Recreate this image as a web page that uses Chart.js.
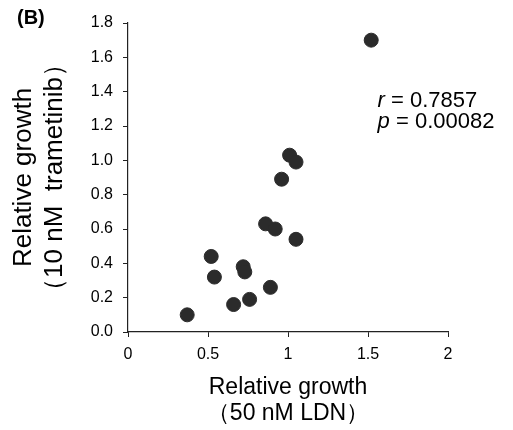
<!DOCTYPE html>
<html><head><meta charset="utf-8">
<script src="https://cdn.jsdelivr.net/npm/chart.js@4"></script>
<style>html,body{margin:0;padding:0;background:#fff}#wrap{width:513px;height:430px}</style>
</head><body><div id="wrap"><canvas id="c" width="513" height="430"></canvas></div>
<script>
const xValues = [1.52, 1.01, 1.05, 0.96, 0.86, 0.92, 1.05, 0.52, 0.54, 0.72, 0.73, 0.89, 0.76, 0.66, 0.37];
const yValues = [1.70, 1.03, 0.99, 0.89, 0.63, 0.60, 0.54, 0.44, 0.32, 0.38, 0.35, 0.26, 0.19, 0.16, 0.10];
const xTicks = [0, 0.5, 1, 1.5, 2];
const yTicks = [0, 0.2, 0.4, 0.6, 0.8, 1.0, 1.2, 1.4, 1.6, 1.8];
const xTitle = ['Relative growth', '（50 nM LDN）'];
const yTitle = ['Relative growth', '（10 nM  trametinib）'];
const panelLabel = '(B)';
const statR = '0.7857';
const statP = '0.00082';

const FONT = '"Liberation Sans", Arial, sans-serif';
const points = xValues.map((x, i) => ({x, y: yValues[i]}));

const extras = {
  id: 'extras',
  afterDraw(chart) {
    const ctx = chart.ctx;
    const xs = chart.scales.x, ys = chart.scales.y;
    ctx.save();
    ctx.fillStyle = '#000';
    ctx.textBaseline = 'alphabetic';
    ctx.font = 'bold 20px ' + FONT;
    ctx.fillText(panelLabel, 17, 24);
    const x0 = xs.getPixelForValue(1.56);
    const lines = [['r', statR, ys.getPixelForValue(1.31)], ['p', statP, ys.getPixelForValue(1.19)]];
    for (const [sym, val, yy] of lines) {
      ctx.font = 'italic 22px ' + FONT;
      ctx.fillText(sym, x0, yy);
      const w = ctx.measureText(sym).width;
      ctx.font = '22px ' + FONT;
      ctx.fillText(' = ' + val, x0 + w, yy);
    }
    ctx.restore();
  }
};

new Chart(document.getElementById('c'), {
  type: 'scatter',
  data: { datasets: [{ data: points, backgroundColor: '#2b2b2b', borderColor: '#2b2b2b', pointRadius: 7, pointHoverRadius: 7 }] },
  options: {
    responsive: false, animation: false,
    layout: { padding: { left: 0, right: 65, top: 23, bottom: 0 } },
    plugins: { legend: { display: false }, tooltip: { enabled: false } },
    scales: {
      x: {
        type: 'linear', min: 0, max: 2,
        afterBuildTicks(s) { s.ticks = xTicks.map(v => ({value: v})); },
        afterFit(s) { s.height = 98; },
        grid: { display: true, drawOnChartArea: false, drawTicks: true, tickLength: 5, color: '#222' },
        border: { display: true, color: '#222', width: 1.2 },
        ticks: { color: '#000', font: { family: FONT, size: 16 }, padding: 8, callback: v => String(v) },
        title: { display: true, text: xTitle, color: '#000', font: { family: FONT, size: 23, lineHeight: 1.1 }, padding: { top: 0, bottom: 4 } }
      },
      y: {
        type: 'linear', min: 0, max: 1.8,
        afterBuildTicks(s) { s.ticks = yTicks.map(v => ({value: v})); },
        afterFit(s) { s.width = 128; },
        grid: { display: true, drawOnChartArea: false, drawTicks: true, tickLength: 5, color: '#222' },
        border: { display: true, color: '#222', width: 1.2 },
        ticks: { color: '#000', font: { family: FONT, size: 16 }, padding: 10, callback: v => v.toFixed(1) },
        title: { display: true, text: yTitle, color: '#000', font: { family: FONT, size: 26, lineHeight: 1.2 }, padding: { top: 8, bottom: 0 } }
      }
    }
  },
  plugins: [extras]
});
</script></body></html>
